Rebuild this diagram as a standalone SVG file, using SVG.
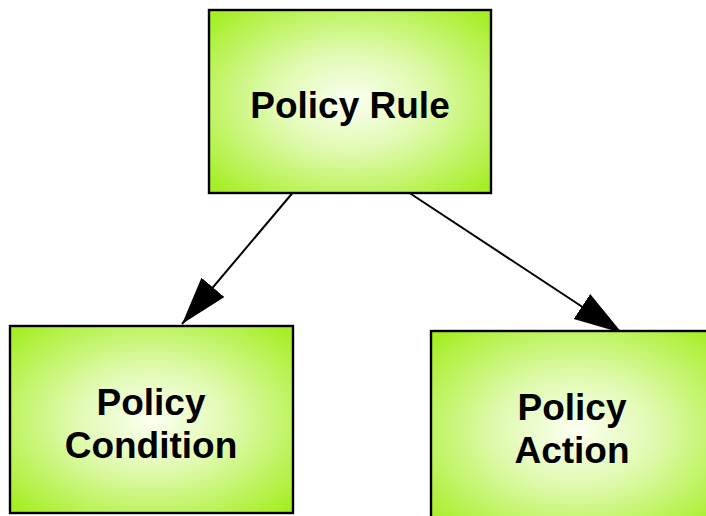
<svg xmlns="http://www.w3.org/2000/svg" width="706" height="516" viewBox="0 0 706 516">
<defs>
<radialGradient id="g" cx="0.5" cy="0.5" r="0.68">
<stop offset="0" stop-color="#fbfff2"/>
<stop offset="0.4" stop-color="#e0fab0"/>
<stop offset="1" stop-color="#a4ee22"/>
</radialGradient>
<marker id="ah" markerUnits="userSpaceOnUse" markerWidth="50" markerHeight="32" refX="48" refY="15" orient="auto">
<path d="M0,0 L48,15 L0,30 Z" fill="#000"/>
</marker>
<style>
.box{fill:url(#g);stroke:#000;stroke-width:2.4}
.lbl{font-family:"Liberation Sans",Arial,sans-serif;font-weight:bold;font-size:37px;fill:#000;text-anchor:middle}
.edge{stroke:#000;stroke-width:2;fill:none}
</style>
</defs>
<g id="connectors">
<line class="edge" x1="295" y1="190" x2="182" y2="324" marker-end="url(#ah)"/>
<line class="edge" x1="408" y1="192" x2="622" y2="333" marker-end="url(#ah)"/>
</g>
<g id="policy-rule">
<rect class="box" x="209" y="10" width="282" height="183"/>
<text class="lbl" x="350" y="118">Policy Rule</text>
</g>
<g id="policy-condition">
<rect class="box" x="10" y="326" width="283" height="187"/>
<text class="lbl" x="151" y="415">Policy</text>
<text class="lbl" x="151" y="458">Condition</text>
</g>
<g id="policy-action">
<rect class="box" x="431" y="331" width="290" height="200"/>
<text class="lbl" x="572" y="420">Policy</text>
<text class="lbl" x="572" y="463">Action</text>
</g>
</svg>
